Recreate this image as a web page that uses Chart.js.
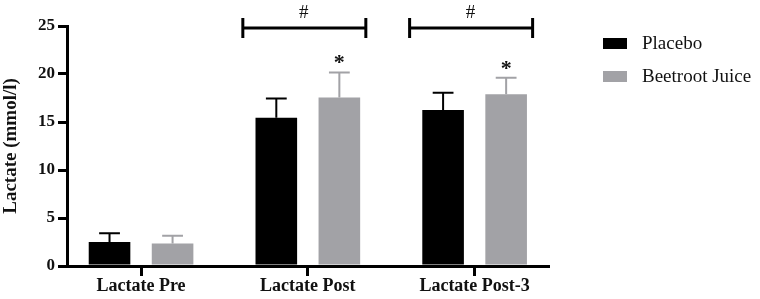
<!DOCTYPE html>
<html>
<head>
<meta charset="utf-8">
<script src="https://cdn.jsdelivr.net/npm/chart.js@4/dist/chart.umd.min.js"></script>
<style>
  html, body { margin: 0; padding: 0; background: #fff; }
  #wrap { width: 760px; height: 299px; }
</style>
</head>
<body>
<div id="wrap"><canvas id="chart"></canvas></div>
<script>
// data
const categories   = ['Lactate Pre', 'Lactate Post', 'Lactate Post-3'];
const placebo      = [2.5, 15.45, 16.25];
const placeboErr   = [0.9, 2.0, 1.8];     // upper SD only
const beetroot     = [2.35, 17.55, 17.9];
const beetrootErr  = [0.8, 2.6, 1.7];
const yTicks       = [0, 5, 10, 15, 20, 25];
const hashGroups   = [1, 2];              // "#" brackets
const starGroups   = [1, 2];              // "*" on beetroot bar

const SERIF = '"Liberation Serif", "Times New Roman", serif';
const GRAY  = '#a2a2a6';

const toPoints = vals => vals.map((v, i) => ({ x: i, y: v }));

// error bars (upper half only), brackets and stars
const extrasPlugin = {
    id: 'extras',
    afterDatasetsDraw(chart) {
        const ctx = chart.ctx;
        const y = chart.scales.y;
        const x = chart.scales.x;
        const errs = [placeboErr, beetrootErr];
        const vals = [placebo, beetroot];

        chart.data.datasets.forEach((ds, di) => {
            const meta = chart.getDatasetMeta(di);
            meta.data.forEach((bar, i) => {
                const top = y.getPixelForValue(vals[di][i] + errs[di][i]);
                const capHalf = bar.width * 0.25;
                ctx.save();
                ctx.strokeStyle = ds.backgroundColor;
                ctx.lineWidth = 2;
                ctx.beginPath();
                ctx.moveTo(bar.x, bar.y);
                ctx.lineTo(bar.x, top);
                ctx.moveTo(bar.x - capHalf, top);
                ctx.lineTo(bar.x + capHalf, top);
                ctx.stroke();
                ctx.restore();
            });
        });

        // significance brackets
        ctx.save();
        ctx.strokeStyle = '#000';
        ctx.fillStyle = '#111';
        hashGroups.forEach(g => {
            const cx = x.getPixelForValue(g);
            const by = y.getPixelForValue(24.8);
            const l = cx - 65, r = cx + 58;
            ctx.lineWidth = 3;
            ctx.beginPath();
            ctx.moveTo(l, by); ctx.lineTo(r, by);
            ctx.moveTo(l, by - 10); ctx.lineTo(l, by + 10);
            ctx.moveTo(r, by - 10); ctx.lineTo(r, by + 10);
            ctx.stroke();
            ctx.font = '19px ' + SERIF;
            ctx.textAlign = 'center';
            ctx.textBaseline = 'middle';
            ctx.fillText('#', cx - 4, by - 15);
        });

        const bjMeta = chart.getDatasetMeta(1);
        starGroups.forEach(g => {
            const bar = bjMeta.data[g];
            const top = y.getPixelForValue(beetroot[g] + beetrootErr[g]);
            ctx.font = 'bold 22px ' + SERIF;
            ctx.textAlign = 'center';
            ctx.textBaseline = 'middle';
            ctx.fillText('*', bar.x, top - 9);
        });
        ctx.restore();
    },
    afterDraw(chart) {
        // legend on the right
        const ctx = chart.ctx;
        ctx.save();
        ctx.font = '19px ' + SERIF;
        ctx.textBaseline = 'middle';
        ctx.textAlign = 'left';
        chart.data.datasets.forEach((ds, i) => {
            const cy = 43 + i * 33;
            ctx.fillStyle = ds.backgroundColor;
            ctx.fillRect(603, cy - 5, 24, 11);
            ctx.fillStyle = '#111';
            ctx.fillText(ds.label, 642, cy + 1);
        });
        ctx.restore();
    }
};

new Chart(document.getElementById('chart'), {
    type: 'bar',
    data: {
        datasets: [
            { label: 'Placebo', data: toPoints(placebo), backgroundColor: '#000000' },
            { label: 'Beetroot Juice', data: toPoints(beetroot), backgroundColor: GRAY }
        ]
    },
    options: {
        responsive: true,
        maintainAspectRatio: false,
        animation: false,
        categoryPercentage: 0.756,
        barPercentage: 0.66,
        layout: { padding: { top: 26, right: 212, left: 0, bottom: 0 } },
        plugins: { legend: { display: false }, tooltip: { enabled: false } },
        scales: {
            x: {
                type: 'linear',
                min: -0.444,
                max: 2.44,
                offset: false,
                afterFit(axis) { axis.height = 33; },
                afterBuildTicks(axis) { axis.ticks = categories.map((c, i) => ({ value: i })); },
                grid: { offset: false, drawOnChartArea: false, drawTicks: true, tickLength: 10, lineWidth: 3, color: '#000' },
                border: { display: true, width: 3, color: '#000' },
                ticks: {
                    color: '#111',
                    font: { family: SERIF, size: 18, weight: 'bold' },
                    padding: 0,
                    autoSkip: false,
                    maxRotation: 0,
                    callback: v => categories[v]
                }
            },
            y: {
                min: 0,
                max: 25,
                afterFit(axis) { axis.width = 67; },
                afterBuildTicks(axis) { axis.ticks = yTicks.map(v => ({ value: v })); },
                grid: { drawOnChartArea: false, drawTicks: true, tickLength: 9, lineWidth: 3, color: '#000' },
                border: { display: true, width: 3, color: '#000' },
                ticks: { color: '#111', font: { family: SERIF, size: 17, weight: 'bold' }, padding: 3 },
                title: { display: true, text: 'Lactate (mmol/l)', color: '#111', font: { family: SERIF, size: 19, weight: 'bold' }, padding: { top: 0, bottom: 0 } }
            }
        }
    },
    plugins: [extrasPlugin]
});
</script>
</body>
</html>
